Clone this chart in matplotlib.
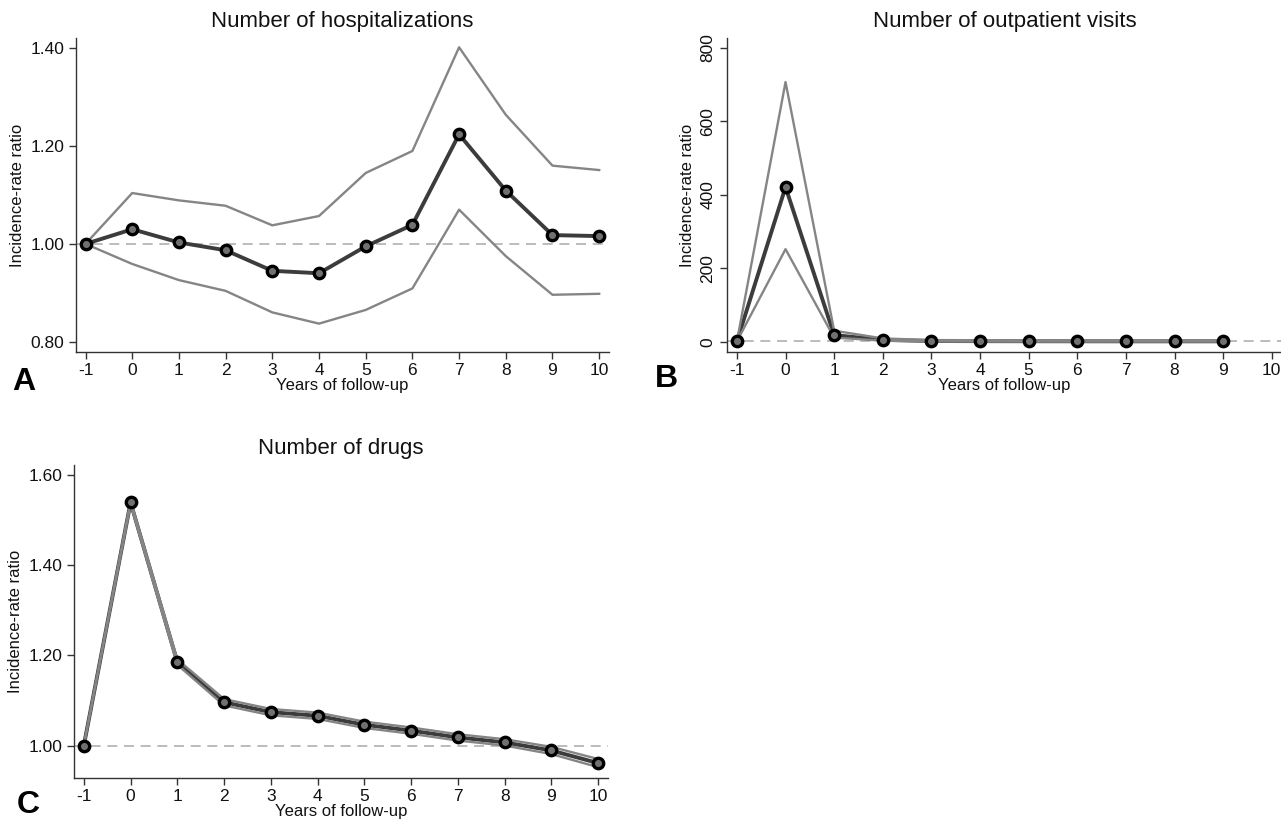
import matplotlib
matplotlib.use("Agg")
import matplotlib.pyplot as plt

plt.rcParams["font.family"] = ["Liberation Sans", "DejaVu Sans"]

years = [-1, 0, 1, 2, 3, 4, 5, 6, 7, 8, 9, 10]

# A: hospitalizations
hosp_irr   = [1.00, 1.030, 1.003, 0.987, 0.945, 0.940, 0.995, 1.039, 1.224, 1.109, 1.018, 1.016]
hosp_upper = [1.00, 1.104, 1.089, 1.078, 1.038, 1.057, 1.145, 1.190, 1.402, 1.264, 1.160, 1.151]
hosp_lower = [1.00, 0.959, 0.926, 0.904, 0.860, 0.837, 0.865, 0.909, 1.070, 0.975, 0.896, 0.898]

# B: outpatient visits (no estimate for year 10)
years_b   = [-1, 0, 1, 2, 3, 4, 5, 6, 7, 8, 9]
out_irr   = [1.0, 421, 18, 5.0, 2.0, 1.5, 1.3, 1.2, 1.1, 1.1, 1.1]
out_upper = [1.0, 707, 30, 9.0, 4.5, 4.0, 3.8, 3.6, 3.5, 3.5, 3.5]
out_lower = [1.0, 252, 11, 3.0, 0.8, 0.4, 0.3, 0.3, 0.3, 0.3, 0.3]

# C: drugs
drug_irr   = [1.00, 1.539, 1.185, 1.096, 1.074, 1.066, 1.046, 1.033, 1.018, 1.007, 0.989, 0.961]
drug_upper = [1.00, 1.543, 1.191, 1.103, 1.081, 1.073, 1.053, 1.040, 1.025, 1.014, 0.997, 0.970]
drug_lower = [1.00, 1.535, 1.179, 1.089, 1.067, 1.059, 1.039, 1.026, 1.011, 1.000, 0.981, 0.952]

W, H = 1281, 821
MAIN = "#3c3c3c"; CI = "#858585"; REF = "#b0b0b0"; AX = "#333333"


def rect(left, top, right, bottom):
    return [left / W, 1 - bottom / H, (right - left) / W, (bottom - top) / H]


def panel(ax, x, est, lo, hi, title, yticks, ylabels, ylim, rot_y=False):
    ax.axhline(1.0, color=REF, linestyle=(0, (6, 4)), linewidth=1.2, zorder=1)
    ax.plot(x, est, color=MAIN, linewidth=2.8, zorder=2)
    ax.plot(x, hi, color=CI, linewidth=1.7, zorder=3)
    ax.plot(x, lo, color=CI, linewidth=1.7, zorder=3)
    ax.plot(x, est, linestyle="none", marker="o", markersize=7.5,
            markerfacecolor="#707070", markeredgecolor="black",
            markeredgewidth=2.4, zorder=4)
    ax.set_xlim(-1.21, 10.21)
    ax.set_ylim(*ylim)
    ax.set_xticks(years)
    ax.set_xticklabels([str(v) for v in years])
    ax.set_yticks(yticks)
    ax.set_yticklabels(ylabels, rotation=90 if rot_y else 0,
                       va="center" if rot_y else "center_baseline")
    for s in ["top", "right"]:
        ax.spines[s].set_visible(False)
    for s in ["left", "bottom"]:
        ax.spines[s].set_color(AX)
        ax.spines[s].set_linewidth(1.0)
    ax.tick_params(colors=AX, labelcolor="#111111", labelsize=12.5, length=5,
                   width=1.0, pad=3)
    ax.set_title(title, fontsize=16, pad=8, color="#111111")
    ax.set_xlabel("Years of follow-up", fontsize=12, labelpad=0, color="#111111")
    ax.set_ylabel("Incidence-rate ratio", fontsize=12, labelpad=4, color="#111111")


fig = plt.figure(figsize=(W / 100, H / 100), dpi=100)

ax_a = fig.add_axes(rect(75.7, 38, 609, 352))
panel(ax_a, years, hosp_irr, hosp_lower, hosp_upper, "Number of hospitalizations",
      [0.8, 1.0, 1.2, 1.4], ["0.80", "1.00", "1.20", "1.40"], (0.779, 1.421))

ax_b = fig.add_axes(rect(726.7, 38, 1282, 352))
panel(ax_b, years_b, out_irr, out_lower, out_upper, "Number of outpatient visits",
      [0, 200, 400, 600, 800], ["0", "200", "400", "600", "800"], (-28, 827),
      rot_y=True)

ax_c = fig.add_axes(rect(74, 465, 608, 778))
panel(ax_c, years, drug_irr, drug_lower, drug_upper, "Number of drugs",
      [1.0, 1.2, 1.4, 1.6], ["1.00", "1.20", "1.40", "1.60"], (0.928, 1.622))

for lbl, px, py in [("A", 24, 382), ("B", 666, 379), ("C", 28, 805)]:
    fig.text(px / W, 1 - py / H, lbl, fontsize=23, fontweight="bold",
             ha="center", va="center", color="black")

fig.savefig("out.png", dpi=100, facecolor="white")
